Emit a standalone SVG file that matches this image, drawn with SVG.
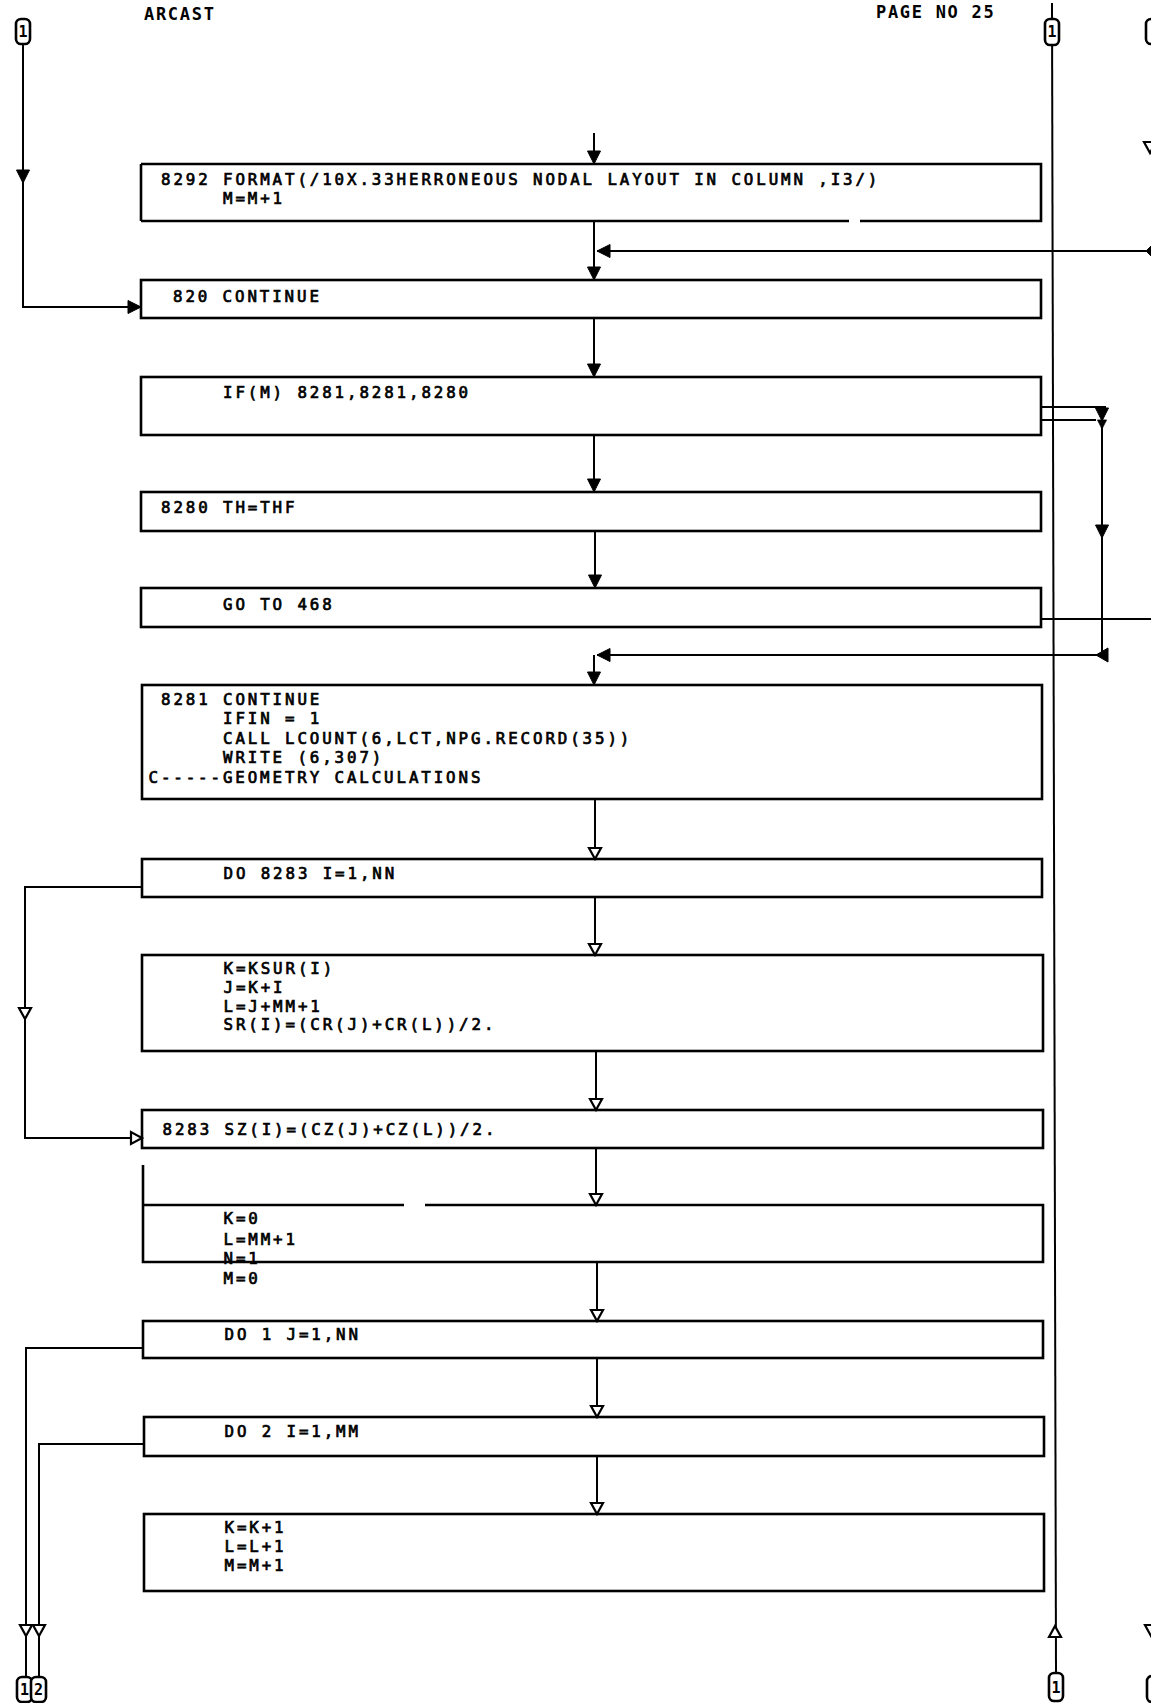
<svg xmlns="http://www.w3.org/2000/svg" width="1151" height="1703" viewBox="0 0 1151 1703">
<style>
  .bg{fill:#fff}
  .box{fill:none;stroke:#000;stroke-width:2.6}
  .ln{fill:none;stroke:#000;stroke-width:2}
  .t{font-family:"DejaVu Sans Mono","Liberation Mono",monospace;font-size:15.8px;letter-spacing:2.89px;fill:#000;stroke:#000;stroke-width:0.7;white-space:pre}
  .h{font-family:"DejaVu Sans Mono","Liberation Mono",monospace;font-size:17px;letter-spacing:1.7px;font-weight:bold;fill:#000}
  .ct{font-family:"DejaVu Sans Mono","Liberation Mono",monospace;font-size:15px;font-weight:bold;fill:#000}
  .conn{fill:#fff;stroke:#000;stroke-width:2.6}
  .af{fill:#000;stroke:#000;stroke-width:1}
  .ao{fill:#fff;stroke:#000;stroke-width:2.2}
</style>
<defs>
  <path id="af" d="M-6.5,-13 L6.5,-13 L0,0 Z"/>
  <path id="ao" d="M-6,-11 L6,-11 L0,0 Z"/>
</defs>
<rect class="bg" x="0" y="0" width="1151" height="1703"/>

<g id="header">
  <text class="h" x="144" y="20">ARCAST</text>
  <text class="h" x="876" y="18">PAGE NO 25</text>
</g>

<g id="connectors">
  <!-- main vertical flow -->
  <line class="ln" x1="594" y1="133" x2="594" y2="164"/>
  <use href="#af" class="af" x="594" y="164"/>
  <line class="ln" x1="594" y1="221" x2="594" y2="280"/>
  <use href="#af" class="af" x="594" y="280"/>
  <line class="ln" x1="1151" y1="251" x2="597" y2="251"/>
  <use href="#af" class="af" transform="translate(597,251) rotate(90)"/>
  <path class="af" d="M1146,251 L1151,246 L1151,256 Z"/>
  <line class="ln" x1="594" y1="318" x2="594" y2="377"/>
  <use href="#af" class="af" x="594" y="377"/>
  <line class="ln" x1="594" y1="435" x2="594" y2="492"/>
  <use href="#af" class="af" x="594" y="492"/>
  <line class="ln" x1="595" y1="531" x2="595" y2="588"/>
  <use href="#af" class="af" x="595" y="588"/>

  <!-- IF branches on the right -->
  <polyline class="ln" points="1041,407 1106,407"/>
  <polyline class="ln" points="1041,420 1096,420"/>
  <use href="#af" class="af" x="1102" y="421"/>
  <use href="#af" class="af" transform="translate(1102,429) scale(0.7)"/>
  <line class="ln" x1="1102" y1="421" x2="1102" y2="655"/>
  <use href="#af" class="af" x="1102" y="538"/>
  <path class="af" d="M1096,655 L1108,648 L1108,662 Z"/>
  <line class="ln" x1="1102" y1="655" x2="597" y2="655"/>
  <use href="#af" class="af" transform="translate(597,655) rotate(90)"/>
  <line class="ln" x1="594" y1="655" x2="594" y2="685"/>
  <use href="#af" class="af" x="594" y="685"/>
  <line class="ln" x1="1041" y1="619" x2="1151" y2="619"/>

  <!-- left entry from connector 1 -->
  <polyline class="ln" points="23,43 23,307 141,307"/>
  <use href="#af" class="af" x="23" y="183"/>
  <use href="#af" class="af" transform="translate(141,307) rotate(-90)"/>

  <!-- lower main flow -->
  <line class="ln" x1="595" y1="799" x2="595" y2="859"/>
  <use href="#ao" class="ao" x="595" y="859"/>
  <line class="ln" x1="595" y1="897" x2="595" y2="955"/>
  <use href="#ao" class="ao" x="595" y="955"/>
  <line class="ln" x1="596" y1="1051" x2="596" y2="1110"/>
  <use href="#ao" class="ao" x="596" y="1110"/>
  <line class="ln" x1="596" y1="1148" x2="596" y2="1205"/>
  <use href="#ao" class="ao" x="596" y="1205"/>
  <line class="ln" x1="597" y1="1262" x2="597" y2="1321"/>
  <use href="#ao" class="ao" x="597" y="1321"/>
  <line class="ln" x1="597" y1="1358" x2="597" y2="1417"/>
  <use href="#ao" class="ao" x="597" y="1417"/>
  <line class="ln" x1="597" y1="1456" x2="597" y2="1514"/>
  <use href="#ao" class="ao" x="597" y="1514"/>

  <!-- DO 8283 loop -->
  <polyline class="ln" points="141,887 25,887 25,1138 142,1138"/>
  <use href="#ao" class="ao" x="25" y="1019"/>
  <use href="#ao" class="ao" transform="translate(142,1138) rotate(-90)"/>

  <!-- DO 1 / DO 2 loops -->
  <polyline class="ln" points="143,1348 26,1348 26,1677"/>
  <use href="#ao" class="ao" x="26" y="1636"/>
  <polyline class="ln" points="144,1444 39,1444 39,1677"/>
  <use href="#ao" class="ao" x="39" y="1636"/>

  <!-- right page line -->
  <line class="ln" x1="1052" y1="3" x2="1056" y2="1673"/>
  <use href="#ao" class="ao" transform="translate(1055,1626) rotate(180)"/>

  <!-- far right partial marks -->
  <use href="#ao" class="ao" x="1150" y="153"/>
  <use href="#ao" class="ao" x="1151" y="1636"/>
</g>

<g id="conn-top-left">
  <rect class="conn" x="16" y="19" width="14" height="25" rx="5"/>
  <text class="ct" x="23" y="37" text-anchor="middle">1</text>
</g>
<g id="conn-top-right">
  <rect class="conn" x="1045" y="19" width="14" height="26" rx="5"/>
  <text class="ct" x="1052" y="37" text-anchor="middle">1</text>
</g>
<g id="conn-top-far-right">
  <rect class="conn" x="1146" y="19" width="16" height="25" rx="5"/>
</g>
<g id="conn-bottom-left">
  <rect class="conn" x="17" y="1677" width="15" height="25" rx="5"/>
  <rect class="conn" x="31" y="1677" width="15" height="25" rx="5"/>
  <text class="ct" x="20" y="1695" letter-spacing="5">12</text>
</g>
<g id="conn-bottom-right">
  <rect class="conn" x="1049" y="1673" width="14" height="28" rx="5"/>
  <text class="ct" x="1056" y="1693" text-anchor="middle">1</text>
</g>
<g id="conn-bottom-far-right">
  <rect class="conn" x="1147" y="1676" width="16" height="26" rx="5"/>
</g>

<g id="n8292">
  <path class="box" d="M141,164 H1041 V221 H860 M849,221 H141 Z"/>
  <path class="box" d="M141,221 V164"/>
  <text class="t" x="161" y="185">8292 FORMAT(/10X.33HERRONEOUS NODAL LAYOUT IN COLUMN ,I3/)</text>
  <text class="t" x="223" y="204">M=M+1</text>
</g>
<g id="n820">
  <rect class="box" x="141" y="280" width="900" height="38"/>
  <text class="t" x="173" y="302">820 CONTINUE</text>
</g>
<g id="nIF">
  <rect class="box" x="141" y="377" width="900" height="58"/>
  <text class="t" x="223" y="398">IF(M) 8281,8281,8280</text>
</g>
<g id="n8280">
  <rect class="box" x="141" y="492" width="900" height="39"/>
  <text class="t" x="161" y="513">8280 TH=THF</text>
</g>
<g id="nGOTO">
  <rect class="box" x="141" y="588" width="900" height="39"/>
  <text class="t" x="223" y="610">GO TO 468</text>
</g>
<g id="n8281">
  <rect class="box" x="142" y="685" width="900" height="114"/>
  <text class="t" x="161" y="705">8281 CONTINUE</text>
  <text class="t" x="223" y="724">IFIN = 1</text>
  <text class="t" x="223" y="743.5">CALL LCOUNT(6,LCT,NPG.RECORD(35))</text>
  <text class="t" x="223" y="763">WRITE (6,307)</text>
  <text class="t" x="148.5" y="783">C-----GEOMETRY CALCULATIONS</text>
</g>
<g id="nDO8283">
  <rect class="box" x="142" y="859" width="900" height="38"/>
  <text class="t" x="223.5" y="879">DO 8283 I=1,NN</text>
</g>
<g id="nKSUR">
  <rect class="box" x="142" y="955" width="901" height="96"/>
  <text class="t" x="223.5" y="974">K=KSUR(I)</text>
  <text class="t" x="223.5" y="993">J=K+I</text>
  <text class="t" x="223.5" y="1011.5">L=J+MM+1</text>
  <text class="t" x="223.5" y="1030">SR(I)=(CR(J)+CR(L))/2.</text>
</g>
<g id="n8283">
  <rect class="box" x="142" y="1110" width="901" height="38"/>
  <text class="t" x="162.5" y="1135">8283 SZ(I)=(CZ(J)+CZ(L))/2.</text>
</g>
<g id="nK0">
  <path class="box" d="M143,1165 V1262 H1043 V1205 H425 M404,1205 H143"/>
  <text class="t" x="223.5" y="1224">K=0</text>
  <text class="t" x="223.5" y="1244.5">L=MM+1</text>
  <text class="t" x="223.5" y="1264">N=1</text>
  <text class="t" x="223.5" y="1284">M=0</text>
</g>
<g id="nDO1">
  <rect class="box" x="143" y="1321" width="900" height="37"/>
  <text class="t" x="224.5" y="1340">DO 1 J=1,NN</text>
</g>
<g id="nDO2">
  <rect class="box" x="144" y="1417" width="900" height="39"/>
  <text class="t" x="224.5" y="1437">DO 2 I=1,MM</text>
</g>
<g id="nKK1">
  <rect class="box" x="144" y="1514" width="900" height="77"/>
  <text class="t" x="224.5" y="1533">K=K+1</text>
  <text class="t" x="224.5" y="1552">L=L+1</text>
  <text class="t" x="224.5" y="1571">M=M+1</text>
</g>
</svg>
